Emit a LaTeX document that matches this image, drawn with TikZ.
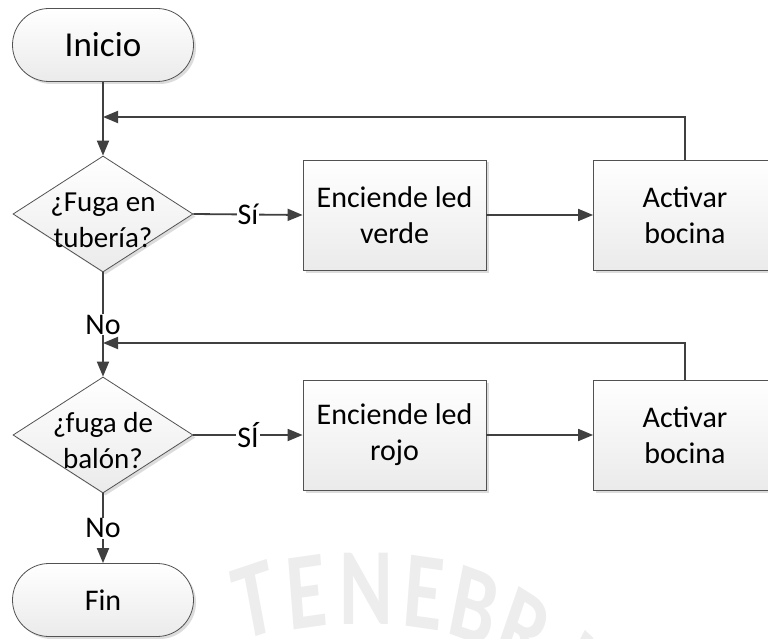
\documentclass[tikz,border=0pt]{standalone}
\usepackage{fontspec}
\setmainfont{Carlito}
\usetikzlibrary{shapes.geometric,shapes.misc,arrows.meta,shadows}

\begin{document}
\begin{tikzpicture}[x=1pt,y=-1pt,
  shapebase/.style={draw=black!68, line width=0.8pt, top color=white, bottom color=black!8,
    drop shadow={shadow xshift=2.5pt, shadow yshift=-2.5pt, fill=black!30, opacity=.45}},
  term/.style={shapebase, rounded rectangle, minimum width=181pt, minimum height=73pt, inner sep=0pt},
  proc/.style={shapebase, rectangle, minimum width=183pt, minimum height=110pt, inner sep=0pt,
    align=center, font=\fontsize{30}{36}\selectfont},
  dec/.style={shapebase, diamond, minimum width=180pt, minimum height=116pt, inner sep=0pt},
  dectext/.style={align=center, font=\fontsize{29}{36}\selectfont, inner sep=0pt},
  conn/.style={draw=black!75, line width=1.8pt, -{Triangle[length=15pt,width=12pt]}},
  lbl/.style={fill=white, inner sep=1pt, font=\fontsize{30}{32}\selectfont},
  wm/.style={text=black!7, font=\bfseries\fontsize{110}{110}\selectfont, xscale=.74, inner sep=0pt, anchor=north}
]
\useasboundingbox (0,0) rectangle (768,639);
\fill[white] (0,0) rectangle (768,639);

% faint seal lettering in the background
\node[wm, rotate=14]  at (248,566) {T};
\node[wm, rotate=6]   at (304,557) {E};
\node[wm, rotate=0]   at (366,553) {N};
\node[wm, rotate=-6]  at (427,557) {E};
\node[wm, rotate=-15] at (481,571) {B};
\node[wm, rotate=-25] at (536,597) {R};
\node[wm, rotate=-35] at (590,634) {I};

% shapes
\node[term, font=\fontsize{35}{40}\selectfont] (ini) at (103,45) {Inicio};

\node[dec] (d1) at (103,214) {};
\node[dectext] (d1t) at (103,220) {¿Fuga en\\tubería?};
\node[proc] (b1) at (394.5,215) {Enciende led\\verde};
\node[proc] (b2) at (685,215) {Activar\\bocina};

\node[dec] (d2) at (103,435) {};
\node[dectext] (d2t) at (103,441) {¿fuga de\\balón?};
\node[proc] (b3) at (394.5,435) {Enciende led\\rojo};
\node[proc] (b4) at (685,435) {Activar\\bocina};

\node[term, font=\fontsize{30}{34}\selectfont] (fin) at (103,600) {Fin};

% junction points of the return loops
\coordinate (j1) at (103,117);
\coordinate (j2) at (103,343);

% connectors
\draw[conn] (ini.south) -- (d1.north);
\draw[conn] (d1.east) -- node[lbl] {Sí} (b1.west);
\draw[conn] (b1.east) -- (b2.west);
\draw[conn] (b2.north) |- (j1);
\draw[conn] (d1.south) -- node[lbl] {No} (d2.north);
\draw[conn] (d2.east) -- node[lbl] {SÍ} (b3.west);
\draw[conn] (b3.east) -- (b4.west);
\draw[conn] (b4.north) |- (j2);
\draw[conn] (d2.south) -- node[lbl] {No} (fin.north);
\end{tikzpicture}
\end{document}
